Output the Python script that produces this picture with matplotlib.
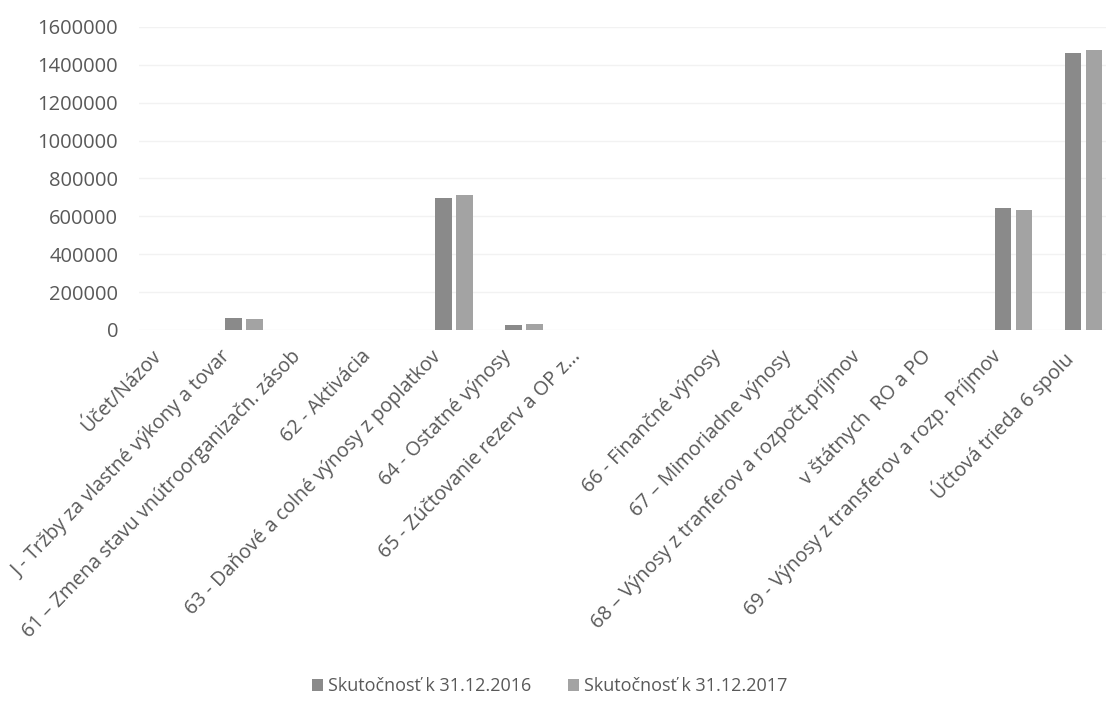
import numpy as np
import matplotlib
matplotlib.use("Agg")
import matplotlib.pyplot as plt

plt.rcParams["font.family"] = ["Open Sans", "DejaVu Sans"]

# ── data ─────────────────────────────────────────────────────────────────────
categories = [
    "Účet/Názov",
    "J - Tržby za vlastné výkony a tovar",
    "61 – Zmena stavu vnútroorganizačn. zásob",
    "62 - Aktivácia",
    "63 - Daňové a colné výnosy z poplatkov",
    "64 - Ostatné výnosy",
    "65 - Zúčtovanie rezerv a OP z...",
    "",
    "66 - Finančné výnosy",
    "67 – Mimoriadne výnosy",
    "68 – Výnosy z tranferov a rozpočt.príjmov",
    "v štátnych  RO a PO",
    "69 - Výnosy z transferov a rozp. Príjmov",
    "Účtová trieda 6 spolu",
]
vals_2016 = [0, 63000, 0, 0, 697000, 28000, 0, 0, 0, 0, 0, 0, 644000, 1462000]
vals_2017 = [0, 58000, 0, 0, 712000, 30000, 0, 0, 0, 0, 0, 0, 633000, 1478000]
series_names = ["Skutočnosť k 31.12.2016", "Skutočnosť k 31.12.2017"]
yticks = [0, 200000, 400000, 600000, 800000, 1000000, 1200000, 1400000, 1600000]

# ── plot ─────────────────────────────────────────────────────────────────────
TXT = "#595959"
fig = plt.figure(figsize=(11.06, 7.15), dpi=100)
ax = fig.add_axes([0.1257, 0.5385, 0.886, 0.4238])

x = np.arange(len(categories))
w = 0.23
ax.bar(x - 0.15, vals_2016, w, color="#8a8a8a", label=series_names[0])
ax.bar(x + 0.15, vals_2017, w, color="#a3a3a3", label=series_names[1])

ax.set_xlim(-0.5, len(categories) - 0.5)
ax.set_ylim(0, 1600000)
ax.set_yticks(yticks)
ax.set_yticklabels([str(v) for v in yticks], fontsize=14.5, color=TXT)
# ticks are invisible; put label anchors a bit left of the bar groups
ax.set_xticks(x - 0.33)
ax.set_xticklabels(categories, rotation=46, ha="right", va="top",
                   rotation_mode="anchor", fontsize=14.2, color=TXT)
ax.tick_params(axis="both", length=0)
ax.tick_params(axis="y", pad=15)
ax.tick_params(axis="x", pad=12)
ax.grid(axis="y", color="#f2f2f2", lw=1)
ax.set_axisbelow(True)
for s in ax.spines.values():
    s.set_visible(False)

fig.legend(loc="center", bbox_to_anchor=(0.497, 0.04), ncol=2,
           frameon=False, fontsize=13, handlelength=0.6, handleheight=0.6,
           handletextpad=0.3, columnspacing=2.0, labelcolor=TXT)

fig.savefig("out.png", dpi=100)
